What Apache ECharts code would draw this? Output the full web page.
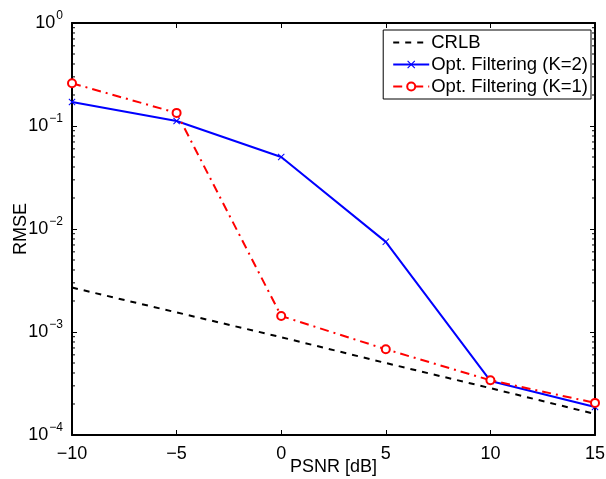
<!DOCTYPE html>
<html><head><meta charset="utf-8">
<script src="https://cdn.jsdelivr.net/npm/echarts@6/dist/echarts.min.js"></script>
<style>html,body{margin:0;padding:0;background:#fff}#c{width:606px;height:479px}</style>
</head><body><div id="c"></div>
<script>
const psnr = [-10, -5, 0, 5, 10, 15];
const crlb = [2.7e-3, 1.55e-3, 8.9e-4, 5.0e-4, 2.85e-4, 1.6e-4];
const optK2 = [0.171, 0.112, 0.050, 7.5e-3, 3.35e-4, 1.87e-4];
const optK1 = [0.26, 0.134, 1.43e-3, 6.8e-4, 3.4e-4, 2.05e-4];
const xTicks = [-10, -5, 0, 5, 10, 15];
const yTicks = [1e-4, 1e-3, 1e-2, 1e-1, 1];
const minorTickVals = [];
for (let e = -4; e < 0; e++) for (let m = 2; m <= 9; m++) minorTickVals.push(m * Math.pow(10, e));

const FONT = 'Liberation Sans, Arial, Helvetica, sans-serif';
const chart = echarts.init(document.getElementById('c'));
const fmtX = v => (v < 0 ? '\u2212' + Math.abs(v) : '' + v);
const fmtY = v => {
  const e = Math.round(Math.log10(v));
  return '{b|10}{s|' + (e < 0 ? '\u2212' + Math.abs(e) : e) + '}';
};
const xCommon = {
  type: 'value', min: xTicks[0], max: xTicks[xTicks.length - 1], interval: 5,
  axisLine: { show: true, onZero: false, lineStyle: { color: '#000', width: 2 } },
  axisTick: { show: true, inside: true, length: 5, lineStyle: { color: '#000', width: 1 } },
  splitLine: { show: false }
};
const yCommon = {
  type: 'log', logBase: 10, min: yTicks[0], max: yTicks[yTicks.length - 1],
  axisLine: { show: true, onZero: false, lineStyle: { color: '#000', width: 2 } },
  axisTick: { show: true, inside: true, length: 5, lineStyle: { color: '#000', width: 1 } },
  splitLine: { show: false }, minorTick: { show: false }
};
chart.setOption({
  animation: false,
  backgroundColor: '#fff',
  textStyle: { fontFamily: FONT },
  grid: { left: 72, right: 11, top: 23, bottom: 44, containLabel: false, outerBoundsMode: 'none' },
  xAxis: [
    Object.assign({}, xCommon, {
      position: 'bottom',
      name: 'PSNR [dB]', nameLocation: 'middle', nameGap: 23, nameMoveOverlap: false,
      nameTextStyle: { color: '#000', fontSize: 18, fontFamily: FONT },
      axisLabel: { color: '#000', fontSize: 18, margin: 10, formatter: fmtX, fontFamily: FONT }
    }),
    Object.assign({}, xCommon, { position: 'top', axisLabel: { show: false } })
  ],
  yAxis: [
    Object.assign({}, yCommon, {
      position: 'left',
      name: 'RMSE', nameLocation: 'middle', nameGap: 42, nameMoveOverlap: false,
      nameTextStyle: { color: '#000', fontSize: 18, fontFamily: FONT },
      axisLabel: {
        color: '#000', margin: 9, formatter: fmtY,
        rich: {
          b: { fontSize: 18, fontFamily: FONT, color: '#000' },
          s: { fontSize: 12, fontFamily: FONT, color: '#000', padding: [0, 0, 14, 1] }
        }
      }
    }),
    Object.assign({}, yCommon, { position: 'right', axisLabel: { show: false } })
  ],
  legend: {
    right: 15, top: 30, orient: 'vertical', itemGap: 3,
    itemWidth: 36, itemHeight: 10,
    backgroundColor: '#fff', borderColor: '#000', borderWidth: 1,
    padding: [3, 3, 3, 9],
    textStyle: { color: '#000', fontSize: 18.5, fontFamily: FONT, padding: [0, 0, 0, -3] },
    data: [
      { name: 'CRLB', itemStyle: { opacity: 0 } },
      'Opt. Filtering (K=2)',
      'Opt. Filtering (K=1)'
    ]
  },
  series: [
    {
      name: 'CRLB', type: 'line', data: psnr.map((x, i) => [x, crlb[i]]),
      symbol: 'none', lineStyle: { color: '#000', width: 2, type: [6, 6] },
      itemStyle: { color: '#000' }
    },
    {
      name: 'Opt. Filtering (K=2)', type: 'line', data: psnr.map((x, i) => [x, optK2[i]]),
      symbol: 'path://M1,0L5,4L9,0L10,1L6,5L10,9L9,10L5,6L1,10L0,9L4,5L0,1Z', symbolSize: 7,
      lineStyle: { color: '#0000ff', width: 2 }, itemStyle: { color: '#0000ff' }
    },
    {
      name: 'Opt. Filtering (K=1)', type: 'line', data: psnr.map((x, i) => [x, optK1[i]]),
      symbol: 'emptyCircle', symbolSize: 8,
      lineStyle: { color: '#ff0000', width: 2, type: [9, 5, 2, 5] },
      itemStyle: { color: '#ff0000', borderWidth: 2, borderColor: '#ff0000' }
    },
    {
      name: 'minor', type: 'custom', silent: true, z: 1,
      data: minorTickVals.map(v => [v]),
      encode: { x: -1, y: 0 },
      renderItem: (params, api) => {
        const v = api.value(0);
        const l = api.coord([xTicks[0], v]);
        const r = api.coord([xTicks[xTicks.length - 1], v]);
        return { type: 'group', children: [
          { type: 'line', shape: { x1: l[0], y1: l[1], x2: l[0] + 3, y2: l[1] }, style: { stroke: '#000', lineWidth: 1 } },
          { type: 'line', shape: { x1: r[0], y1: r[1], x2: r[0] - 3, y2: r[1] }, style: { stroke: '#000', lineWidth: 1 } }
        ]};
      }
    }
  ]
});
</script></body></html>
